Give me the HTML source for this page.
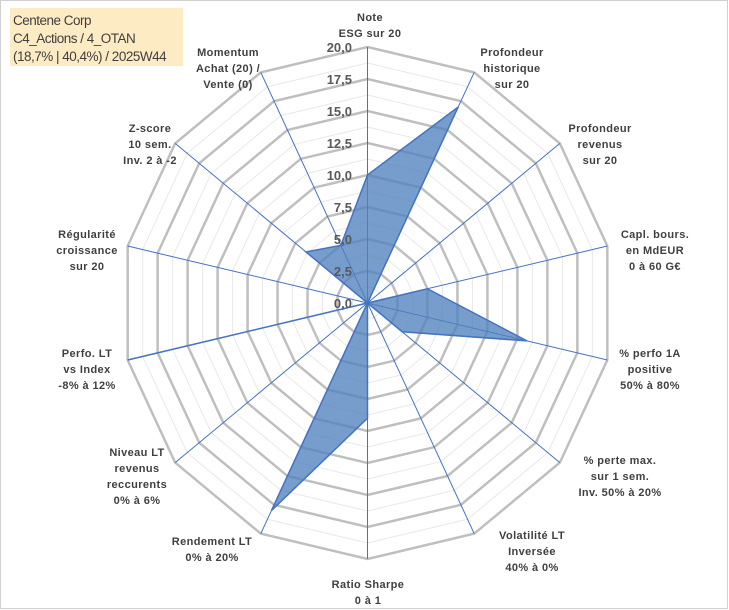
<!DOCTYPE html>
<html><head><meta charset="utf-8"><style>
body{margin:0;background:#fff;}
svg{display:block;font-family:"Liberation Sans",Arial,sans-serif;}
.lbl{font-size:11px;font-weight:bold;fill:#404040;text-anchor:middle;letter-spacing:0.4px;}
.tick{font-size:13px;font-weight:bold;fill:#595959;text-anchor:end;}
.ttl{font-size:13.5px;fill:#404040;letter-spacing:-0.5px;}
</style></head><body>
<svg id="chart" width="729" height="610" viewBox="0 0 729 610">
<rect x="0.5" y="0.5" width="727" height="608" fill="#fff" stroke="#d0d0d0"/>
<g id="grid"></g><g id="axes"></g><g id="series"></g><g id="ticks"></g><g id="labels"></g>
<g>
<rect x="10" y="8" width="173" height="58" fill="#fdebc3"/>
<text class="ttl" x="13" y="25">Centene Corp</text>
<text class="ttl" x="13" y="43">C4_Actions / 4_OTAN</text>
<text class="ttl" x="13" y="61">(18,7% | 40,4%) / 2025W44</text>
</g>
</svg>
<script>
const categories=["Note|ESG sur 20","Profondeur|historique|sur 20","Profondeur|revenus|sur 20","Capl. bours.|en MdEUR|0 à 60 G€","% perfo 1A|positive|50% à 80%","% perte max.|sur 1 sem.|Inv. 50% à 20%","Volatilité LT|Inversée|40% à 0%","Ratio Sharpe|0 à 1","Rendement LT|0% à 20%","Niveau LT|revenus|reccurents|0% à 6%","Perfo. LT|vs Index|-8% à 12%","Régularité|croissance|sur 20","Z-score|10 sem.|Inv. 2 à -2","Momentum|Achat (20) /|Vente (0)"];
const values=[10,17,0,5,13.3,3.6,0,9,18,0,20,0,6.4,5];
const tickLabels=["0,0","2,5","5,0","7,5","10,0","12,5","15,0","17,5","20,0"];
const maxVal=20;
const cx=367.5,cy=303,Rx=246,Ry=256,NS="http://www.w3.org/2000/svg";
const n=categories.length;
function ang(i){return -Math.PI/2+i*2*Math.PI/n;}
function pt(i,v){const f=v/maxVal;return [cx+f*Rx*Math.cos(ang(i)),cy+f*Ry*Math.sin(ang(i))];}
function mk(tag,attrs,parent){const e=document.createElementNS(NS,tag);for(const k in attrs)e.setAttribute(k,attrs[k]);parent.appendChild(e);return e;}
const grid=document.getElementById('grid');
for(let k=1;k<=16;k++){const v=k*maxVal/16;const pts=[];for(let i=0;i<n;i++)pts.push(pt(i,v).join(','));
const major=k%2===0;
const p=mk('polygon',{points:pts.join(' '),fill:'none',stroke:major?'#bfbfbf':'#e8e8e8','stroke-width':major?2.5:1},grid);

}
const axes=document.getElementById('axes');
for(let i=0;i<n;i++){const [x,y]=pt(i,maxVal);const l=mk('line',{x1:cx,y1:cy,x2:x,y2:y,stroke:'#4472c4','stroke-width':1},axes);

}
const ser=document.getElementById('series');
const sp=values.map((v,i)=>pt(i,v).join(',')).join(' ');
const poly=mk('polygon',{points:sp,fill:'#4f81bd','fill-opacity':0.78,stroke:'#4472c4','stroke-width':1.5,'stroke-linejoin':'miter'},ser);


const tk=document.getElementById('ticks');
tickLabels.forEach((t,k)=>{const y=cy-k*Ry/(tickLabels.length-1);const e=mk('text',{x:352,y:y+5,class:'tick'},tk);e.textContent=t;

});
const lblPos=[[370,12],[512,47],[600,123],[655,229],[650,348],[620,455],[532,530],[368,579],[212,536],[137,447],[87,348],[87,229],[150,123],[228,47]];
const lg=document.getElementById('labels');
categories.forEach((c,i)=>{const t=mk('text',{class:'lbl',x:lblPos[i][0],y:lblPos[i][1]+9},lg);


c.split('|').forEach((s,j)=>{const ts=mk('tspan',{x:lblPos[i][0],dy:j?16:0},t);ts.textContent=s;});});
</script>
</body></html>
